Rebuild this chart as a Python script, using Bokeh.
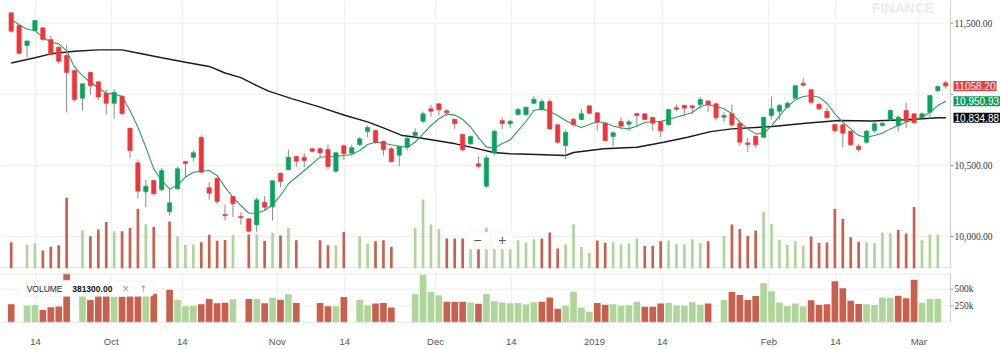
import numpy as np
from bokeh.plotting import figure
from bokeh.layouts import column
from bokeh.models import (Range1d, FixedTicker, Label, BoxAnnotation, ColumnDataSource)
from bokeh.embed import file_html
from bokeh.resources import INLINE

# ---------------- data ----------------
open_ = [11573, 11484, 11343, 11449, 11468, 11385, 11331, 11273, 11167, 10973,
         11153, 11088, 11008, 10937, 10987, 10762, 10518, 10314, 10394, 10331,
         10174, 10336, 10527, 10558, 10696, 10343, 10410, 10155, 10281, 10141,
         10125, 10082, 10241, 10211, 10445, 10469, 10563, 10558, 10617, 10617,
         10612, 10459, 10638, 10586, 10645, 10738, 10745, 10670, 10617, 10572,
         10628, 10710, 10811, 10898, 10933, 10884, 10825, 10717, 10652, 10511,
         10354, 10589, 10816, 10793, 10858, 10856, 10937, 10891, 10949, 10786,
         10640, 10823, 10823, 10919, 10870, 10797, 10703, 10809, 10790, 10865,
         10863, 10837, 10809, 10786, 10905, 10923, 10919, 10928, 10954, 10933,
         10839, 10863, 10797, 10659, 10705, 10698, 10851, 10881, 10909, 10973,
         11078, 11032, 10930, 10881, 10788, 10786, 10741, 10635, 10663, 10745,
         10781, 10821, 10781, 10886, 10863, 10839, 10874, 11027, 11081]
high = [11577, 11490, 11378, 11522, 11472, 11413, 11336, 11348, 11171, 11076,
        11157, 11091, 11032, 11036, 10992, 10764, 10542, 10399, 10397, 10483,
        10336, 10492, 10531, 10605, 10712, 10382, 10414, 10225, 10285, 10171,
        10128, 10276, 10283, 10394, 10449, 10612, 10566, 10586, 10621, 10628,
        10647, 10593, 10647, 10647, 10698, 10781, 10749, 10674, 10628, 10636,
        10698, 10762, 10879, 10926, 10940, 10898, 10828, 10722, 10710, 10565,
        10570, 10750, 10839, 10821, 10905, 10914, 10987, 10966, 10966, 10789,
        10745, 10835, 10898, 10921, 10873, 10804, 10741, 10839, 10823, 10869,
        10866, 10844, 10812, 10898, 10928, 10926, 10922, 10982, 10956, 10944,
        10874, 10928, 10804, 10694, 10710, 10842, 10985, 10933, 10951, 11069,
        11116, 11039, 10937, 10905, 10793, 10789, 10744, 10652, 10750, 10804,
        10804, 10893, 10851, 10940, 10866, 10874, 10996, 11062, 11097]
low = [11432, 11280, 11261, 11445, 11378, 11273, 11214, 10872, 10947, 10886,
       10996, 10961, 10858, 10828, 10853, 10551, 10267, 10206, 10288, 10319,
       10148, 10328, 10417, 10530, 10445, 10258, 10230, 10113, 10136, 10084,
       10033, 10030, 10188, 10113, 10347, 10468, 10487, 10487, 10593, 10558,
       10471, 10448, 10539, 10568, 10638, 10698, 10652, 10570, 10520, 10494,
       10605, 10703, 10797, 10844, 10851, 10846, 10757, 10598, 10645, 10480,
       10343, 10570, 10757, 10762, 10851, 10851, 10933, 10886, 10750, 10652,
       10546, 10774, 10819, 10863, 10741, 10670, 10635, 10753, 10743, 10769,
       10816, 10745, 10698, 10782, 10884, 10851, 10860, 10898, 10874, 10816,
       10804, 10769, 10640, 10593, 10624, 10694, 10823, 10823, 10905, 10968,
       11055, 10933, 10893, 10831, 10729, 10628, 10635, 10593, 10656, 10729,
       10774, 10816, 10738, 10762, 10793, 10832, 10828, 11015, 11039]
close = [11444, 11289, 11376, 11519, 11385, 11280, 11233, 11153, 10963, 11074,
         11060, 10982, 10937, 11013, 10865, 10605, 10319, 10354, 10300, 10464,
         10237, 10476, 10513, 10589, 10452, 10305, 10246, 10146, 10230, 10132,
         10037, 10258, 10206, 10392, 10387, 10558, 10530, 10535, 10600, 10589,
         10492, 10589, 10582, 10624, 10687, 10767, 10663, 10610, 10527, 10635,
         10691, 10733, 10863, 10881, 10891, 10870, 10793, 10610, 10703, 10494,
         10553, 10741, 10795, 10811, 10893, 10909, 10966, 10949, 10757, 10663,
         10733, 10788, 10863, 10867, 10804, 10675, 10729, 10776, 10807, 10851,
         10823, 10797, 10743, 10893, 10895, 10903, 10905, 10963, 10926, 10835,
         10851, 10786, 10663, 10647, 10645, 10839, 10898, 10921, 10937, 11060,
         11064, 10944, 10898, 10835, 10745, 10726, 10645, 10612, 10741, 10793,
         10797, 10886, 10839, 10811, 10800, 10863, 10992, 11055, 11058.20]
volume = [274000, None, 250000, 264000, 188000, 227000, 241000, 738000, None, 398000,
          336000, 406000, 485000, 388000, 388000, 422000, 620000, 461000, 433000, None,
          490000, 336000, 245000, 250000, 274000, 352000, 290000, 298000, 350000, None,
          354000, 354000, 287000, 370000, 343000, 422000, 294000, None, None, 294000,
          242000, 242000, 381000, None, 336000, 260000, 284000, 294000, 225000, None,
          None, 422000, 718000, 458000, 409000, 312000, 312000, 312000, 300000, 280000,
          426000, 320000, 300000, 290000, 294000, 270000, 305000, 312000, 374000, 208000,
          250000, 461000, 225000, 162000, 291000, 266000, 274000, 253000, 260000, 312000,
          235000, 235000, 284000, 291000, 256000, 253000, 305000, 266000, 284000, None,
          339000, 458000, 412000, 339000, 396000, 590000, 467000, 300000, 246000, 284000,
          240000, 334000, 265000, 272000, 620000, 515000, 325000, 276000, 274000, 262000,
          375000, 368000, 400000, 365000, 640000, 295000, 354000, 354000, None]
ma_short = [11526, 11489, 11458, 11449, 11401, 11366, 11355, 11308, 11191, 11132,
            11085, 11046, 11008, 11003, 10985, 10886, 10769, 10628, 10476, 10394,
            10335, 10359, 10417, 10452, 10459, 10464, 10429, 10347, 10276, 10218,
            10164, 10164, 10183, 10225, 10288, 10371, 10417, 10464, 10511, 10558,
            10563, 10565, 10570, 10577, 10605, 10647, 10663, 10656, 10645, 10635,
            10628, 10663, 10722, 10781, 10828, 10861, 10854, 10823, 10770, 10696,
            10629, 10622, 10654, 10679, 10745, 10809, 10886, 10900, 10879, 10851,
            10816, 10788, 10767, 10788, 10809, 10798, 10777, 10763, 10757, 10777,
            10802, 10809, 10811, 10823, 10840, 10854, 10872, 10914, 10928, 10914,
            10898, 10863, 10804, 10757, 10722, 10726, 10776, 10849, 10914, 10961,
            10985, 10992, 10980, 10937, 10863, 10804, 10757, 10710, 10698, 10710,
            10726, 10757, 10781, 10804, 10823, 10839, 10874, 10921, 10950.93]
ma_long_x = [0, 3, 5, 8, 11, 14, 15.5, 19, 22, 25, 27, 29, 31, 32.5, 35.5, 38.8,
             42.2, 45.1, 47.3, 49.4, 51.1, 53.6, 56.1, 58.6, 60.9, 63, 66.4, 70,
             71, 74.8, 79, 82.4, 85.4, 88.3, 91, 96.1, 100.3, 104.5, 108.7, 112.9,
             117.1, 118]
ma_long = [11220, 11257, 11285, 11303, 11313, 11313, 11296, 11257, 11226, 11196,
           11150, 11118, 11062, 11022, 10968, 10914, 10851, 10804, 10757, 10710,
           10698, 10675, 10652, 10622, 10591, 10582, 10577, 10570, 10591, 10617,
           10628, 10663, 10698, 10738, 10757, 10774, 10797, 10816, 10812, 10821,
           10835, 10834.88]
tick_pos = [3.07, 12.63, 21.59, 33.59, 42.12, 53.57, 63.13, 73.65, 82.2, 95.66,
            104.08, 114.6]
tick_labels = ["14", "Oct", "14", "Nov", "14", "Dec", "14", "2019", "14", "Feb",
               "14", "Mar"]
price_ticks = [10000, 10500, 11000, 11500]
volume_ticks = [250000, 500000]
volume_tick_labels = ["250k", "500k"]
legend_volume = 381300

# ---------------- styling ----------------
FONT = "Liberation Sans"
RED = "#f0353a"
GREEN = "#0ba35c"
VRED = "#c9604d"
VGREEN = "#aed69a"
GRID = "#efefef"
FRAME = "#d8d8d8"

n = len(close)
idx = np.arange(n)
vol = np.array([np.nan if v is None else v for v in volume], dtype=float)

body_col = [GREEN if c > o else RED for o, c in zip(open_, close)]
vol_col = []
for i in range(n):
    ref = close[i - 1] if i > 0 else open_[i]
    vol_col.append(VGREEN if close[i] >= ref else VRED)

src = ColumnDataSource(dict(
    x=idx, o=open_, h=high, l=low, c=close,
    top=[max(a, b) for a, b in zip(open_, close)],
    bot=[min(a, b) for a, b in zip(open_, close)],
    bc=body_col, v=vol, vc=vol_col, ms=ma_short))

X0 = -1.351           # left edge of both panels
X_AXIS = 118.6        # price axis position (right edge of the plotting area)
PX = 7.92             # pixels per candle slot
X1 = X0 + 1000 / PX   # right edge of the canvas
xr = Range1d(X0, X1)


def right_axis(p, ticks, labels, y_lo, y_hi):
    k = len(ticks)
    p.segment(x0=[X0] * k, x1=[X_AXIS] * k, y0=ticks, y1=ticks,
              line_color=GRID, line_width=1, level="underlay")
    p.segment(x0=[X_AXIS], x1=[X_AXIS], y0=[y_lo], y1=[y_hi], line_color="#cfcfcf",
              line_width=1)
    p.segment(x0=[X_AXIS] * k, x1=[X_AXIS + 3 / PX] * k, y0=ticks, y1=ticks,
              line_color="#999999", line_width=1)
    p.text(x=[X_AXIS] * k, y=ticks, text=labels, x_offset=4, text_align="left",
           text_baseline="middle", text_font=FONT, text_font_size="9.5px",
           text_color="#333333")


# last-value tags (value, text, colour)
tags = [(close[-1], f"{close[-1]:.2f}", "#f03a3f"),
        (ma_short[-1], f"{ma_short[-1]:,.2f}", "#149a57"),
        (ma_long[-1], f"{ma_long[-1]:,.2f}", "#0d0d0d")]

# ---------------- main price panel ----------------
Y0, Y1 = 9775, 11660
p1 = figure(width=1000, height=270, x_range=xr, y_range=Range1d(Y0, Y1),
            x_axis_location=None, y_axis_location=None,
            output_backend="svg", toolbar_location=None,
            min_border_left=0, min_border_right=0, min_border_top=0,
            min_border_bottom=2)
p1.outline_line_color = None
p1.background_fill_color = "white"
p1.extra_y_ranges = {"vol": Range1d(0, 2792000)}

p1.xgrid.ticker = FixedTicker(ticks=tick_pos)
p1.xgrid.grid_line_color = GRID
p1.ygrid.grid_line_color = None

# price labels hidden where a last-value tag covers them
price_labels = [("" if any(abs(t - v) < 90 for v, _, _ in tags) else f"{t:,.2f}")
                for t in price_ticks]
right_axis(p1, price_ticks, price_labels, Y0, Y1)
p1.segment(x0=[X0], x1=[X_AXIS], y0=[Y0 + 4], y1=[Y0 + 4], line_color="#dddddd", line_width=1)

# watermark
p1.add_layout(Label(x=112.6, y=11607, text="FINANCE", text_align="center",
                    text_baseline="alphabetic", text_font=FONT, text_font_style="bold",
                    text_font_size="14px", text_color="#ebebeb", level="underlay"))

# volume overlay (thin bars)
p1.vbar(x="x", top="v", bottom=0, width=0.34, fill_color="vc", line_color=None,
        y_range_name="vol", source=src)

# moving averages
p1.line(ma_long_x, ma_long, line_color="#1a1a1a", line_width=1.4)
p1.line("x", "ms", line_color="#2e9a68", line_width=1.1, source=src)

# candles
p1.segment(x0="x", y0="l", x1="x", y1="h", line_color="#8a8a8a", line_width=1, source=src)
p1.vbar(x="x", top="top", bottom="bot", width=0.55, fill_color="bc", line_color="bc",
        line_width=0.6, source=src)

# last-value labels
for val, txt, bg in tags:
    p1.add_layout(Label(x=X_AXIS, y=val, x_offset=3, text=txt, text_align="left",
                        text_baseline="middle", text_font=FONT, text_font_size="10px",
                        text_color="white", background_fill_color=bg,
                        background_fill_alpha=1, padding=1))

# zoom buttons
p1.add_layout(BoxAnnotation(left=57.3, right=63.5, bottom=9910, top=10032,
                            fill_color="white", fill_alpha=1, line_color="#dcdcdc",
                            line_width=1, border_radius=4))
p1.add_layout(BoxAnnotation(left=60.6, right=60.6, bottom=9930, top=10012,
                            fill_alpha=0, line_color="#dddddd", line_width=1))
p1.add_layout(Label(x=58.85, y=9972, text="\u2212", text_align="center",
                    text_baseline="middle", text_font=FONT, text_font_size="14px",
                    text_color="#555555"))
p1.add_layout(Label(x=62.0, y=9972, text="+", text_align="center",
                    text_baseline="middle", text_font=FONT, text_font_size="14px",
                    text_color="#555555"))

# ---------------- volume panel ----------------
V1 = 735000
p2 = figure(width=1000, height=79, x_range=xr, y_range=Range1d(0, V1),
            y_axis_location=None, output_backend="svg", toolbar_location=None,
            min_border_left=0, min_border_right=0, min_border_top=3,
            min_border_bottom=25)
p2.outline_line_color = None
p2.xgrid.ticker = FixedTicker(ticks=tick_pos)
p2.xgrid.grid_line_color = GRID
p2.ygrid.grid_line_color = None

right_axis(p2, volume_ticks, volume_tick_labels, 0, V1)

p2.vbar(x="x", top="v", bottom=0, width=0.84, fill_color="vc", line_color=None, source=src)

# frame of the volume panel (top and bottom edges)
p2.segment(x0=[X0, X0], x1=[X_AXIS, X_AXIS], y0=[V1 - 5000, 3000], y1=[V1 - 5000, 3000],
           line_color=FRAME, line_width=1)

xa = p2.xaxis[0]
xa.ticker = FixedTicker(ticks=tick_pos)
xa.major_label_overrides = dict(zip(tick_pos, tick_labels))
xa.axis_line_color = None
xa.major_tick_line_color = None
xa.minor_tick_line_color = None
xa.major_label_standoff = 7
xa.major_label_text_font = FONT
xa.major_label_text_font_size = "9.5px"
xa.major_label_text_color = "#555555"

# legend box
p2.add_layout(BoxAnnotation(left=0.96, right=18.0, bottom=389000, top=634000,
                            fill_color="white", fill_alpha=1, line_color="#dddddd",
                            line_width=1, border_radius=4))
ly = 510000
p2.add_layout(Label(x=1.95, y=ly, text="VOLUME", text_baseline="middle", text_font=FONT,
                    text_font_size="8.5px", text_color="#222222"))
p2.add_layout(Label(x=7.7, y=ly, text=f"{legend_volume:.2f}", text_baseline="middle",
                    text_font=FONT, text_font_style="bold", text_font_size="8.5px",
                    text_color="#111111"))
p2.add_layout(Label(x=14.45, y=ly, text="\u00d7", text_align="center", text_baseline="middle",
                    text_font=FONT, text_font_size="12px", text_color="#9a9a9a"))
p2.add_layout(Label(x=16.7, y=ly, text="\u2191", text_align="center", text_baseline="middle",
                    text_font="DejaVu Sans", text_font_size="9px", text_color="#9a9a9a"))

layout = column(p1, p2, spacing=0)
open("out.html", "w").write(file_html(layout, INLINE))
